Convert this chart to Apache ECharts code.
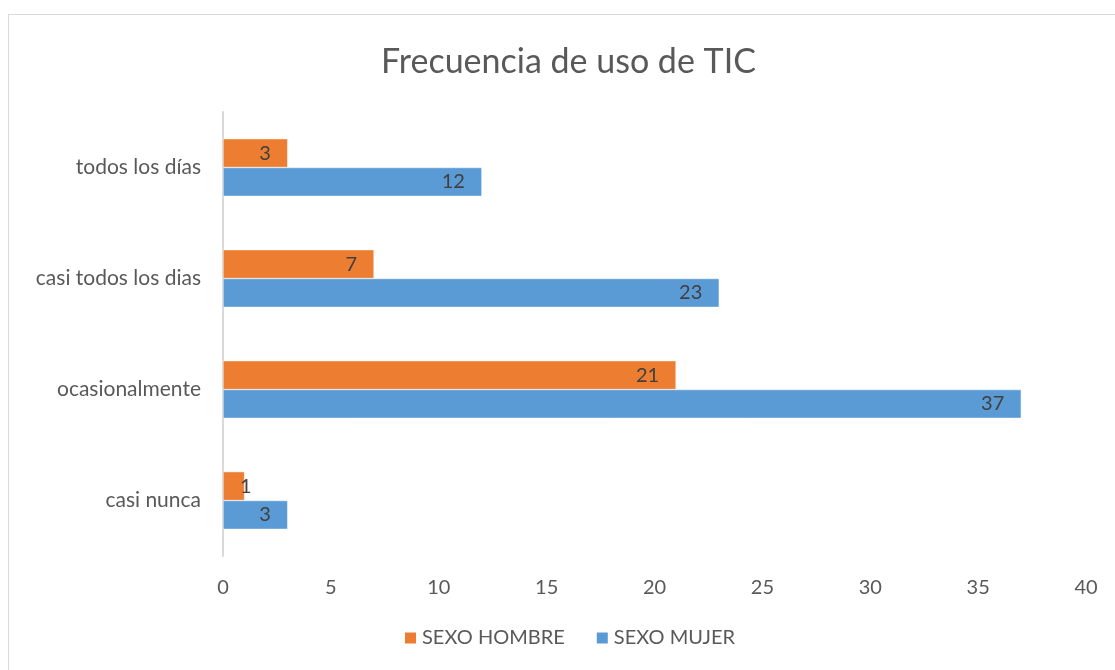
<!DOCTYPE html>
<html><head><meta charset="utf-8">
<script src="https://cdn.jsdelivr.net/npm/echarts@6/dist/echarts.min.js"></script>
<style>
html,body{margin:0;padding:0;background:#fff;}
#frame{position:absolute;left:8px;top:14px;width:1120px;height:670px;border:1.5px solid #d9d9d9;box-sizing:border-box;}
#c{position:absolute;left:0;top:0;width:1115px;height:670px;}
</style></head>
<body>
<div id="frame"></div>
<div id="c"></div>
<script>
const categories = ['casi nunca', 'ocasionalmente', 'casi todos los dias', 'todos los días'];
const hombre = [1, 21, 7, 3];
const mujer = [3, 37, 23, 12];
const xTicks = [0, 5, 10, 15, 20, 25, 30, 35, 40];
const titleText = 'Frecuencia de uso de TIC';
const seriesNames = ['SEXO HOMBRE', 'SEXO MUJER'];

const FONT = 'Lato';
const chart = echarts.init(document.getElementById('c'), null, {renderer: 'canvas'});
const labelCfg = {show: true, position: 'insideRight', color: '#404040', fontSize: 20, fontFamily: FONT, distance: 17};
// Very short bars: label is kept inside from the axis side (as in the source chart)
const toItems = arr => arr.map(v => v < 2 ? {value: v, label: {position: 'insideLeft', distance: 17}} : v);
chart.setOption({
  backgroundColor: 'transparent',
  animation: false,
  title: {text: titleText, left: 376, top: 40, textStyle: {fontFamily: FONT, fontSize: 34, fontWeight: 'normal', color: '#595959'}},
  legend: {data: seriesNames, bottom: 17, left: 398, itemWidth: 13, itemHeight: 13, itemGap: 30, icon: 'rect',
    textStyle: {fontFamily: FONT, fontSize: 20, color: '#595959'}},
  grid: {left: 223, right: 29, top: 112, bottom: 114, containLabel: false},
  xAxis: {type: 'value', min: xTicks[0], max: xTicks[xTicks.length-1], interval: 5,
    axisLine: {show: false}, axisTick: {show: false}, splitLine: {show: false},
    axisLabel: {fontFamily: FONT, fontSize: 20, color: '#595959', margin: 22}},
  yAxis: {type: 'category', data: categories,
    axisLine: {show: true, lineStyle: {color: '#d9d9d9', width: 2}}, axisTick: {show: false},
    axisLabel: {fontFamily: FONT, fontSize: 21, color: '#595959', margin: 22}},
  series: [
    {name: seriesNames[0], type: 'bar', data: toItems(hombre), barGap: '0%', barCategoryGap: '48%',
      itemStyle: {color: '#ED7D31', borderColor: '#ffffff', borderWidth: 0.5}, label: labelCfg},
    {name: seriesNames[1], type: 'bar', data: toItems(mujer), barGap: '0%', barCategoryGap: '48%',
      itemStyle: {color: '#5B9BD5', borderColor: '#ffffff', borderWidth: 0.5}, label: labelCfg}
  ]
});
</script>
</body></html>
